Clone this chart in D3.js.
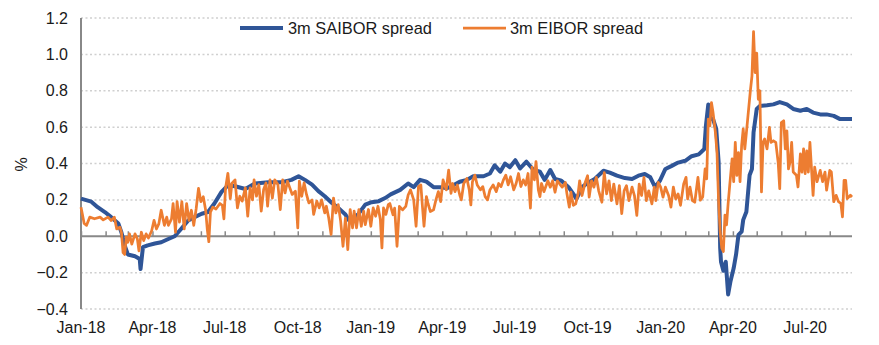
<!DOCTYPE html>
<html>
<head>
<meta charset="utf-8">
<script src="https://cdn.jsdelivr.net/npm/d3@7"></script>
<style>
  html, body { margin: 0; padding: 0; background: #fff; }
  svg { display: block; font-family: "Liberation Sans", Arial, sans-serif; }
</style>
</head>
<body>
<svg id="chart" width="879" height="345"></svg>
<script>
// ---- Data (day offset from 1 Jan 2018, spread in %) ----
const startDate = new Date(2018, 0, 1);
const endDay = 971;

const saiborDay = [0,13,21,30,38,47,51,55,59,68,74,75,78,84,93,101,110,118,126,135,143,152,160,168,177,185,194,
  207,219,236,253,265,274,282,291,299,307,316,324,333,337,343,349,358,366,375,383,390,
  402,412,419,427,435,444,452,461,469,477,486,494,507,515,521,528,534,540,547,553,561,570,578,584,
  591,597,605,614,620,624,631,639,647,658,666,675,685,694,702,710,717,723,729,736,744,752,761,769,778,
  785,787,790,793,796,800,803,805,806,809,812,815,818,822,825,828,832,834,838,842,845,847,851,
  855,864,872,880,889,897,906,914,922,931,939,948,956,964,971];
const saiborValue = [0.207,0.19,0.16,0.133,0.105,0.07,0.02,-0.05,-0.1,-0.11,-0.125,-0.18,-0.06,-0.05,-0.04,-0.033,-0.015,0.0,0.04,0.087,0.105,0.124,0.133,0.18,0.244,0.28,0.275,
  0.26,0.29,0.297,0.297,0.31,0.33,0.31,0.284,0.248,0.22,0.183,0.156,0.12,0.09,0.1,0.12,0.174,0.187,0.193,0.21,0.23,
  0.255,0.29,0.27,0.31,0.3,0.27,0.27,0.264,0.28,0.3,0.31,0.33,0.33,0.345,0.39,0.355,0.4,0.38,0.418,0.373,0.41,0.364,0.355,0.31,
  0.364,0.315,0.305,0.27,0.233,0.205,0.27,0.296,0.315,0.36,0.35,0.333,0.32,0.315,0.333,0.342,0.324,0.27,0.305,0.37,0.387,0.405,0.415,0.44,0.45,
  0.48,0.607,0.725,0.644,0.644,0.59,0.41,-0.065,-0.14,-0.19,-0.14,-0.32,-0.247,-0.175,-0.1,0.007,0.025,0.09,0.135,0.335,0.37,0.57,0.7,
  0.716,0.72,0.725,0.738,0.725,0.7,0.69,0.70,0.68,0.67,0.67,0.662,0.644,0.644,0.644];

const eiborDay = [0,4,7,11,17,24,28,34,38,42,45,49,51,53,55,57,59,61,64,68,71,73,76,79,82,85,89,92,95,98,101,105,108,110,114,116,119,121,124,127,130,133,136,139,142,145,148,151,154,157,159,161,163,166,170,175,178,180,182,185,188,190,194,
  197,200,203,207,210,213,216,218,221,224,227,230,233,235,238,241,244,248,251,254,257,260,263,266,270,273,275,278,281,284,287,291,293,297,300,303,307,309,312,315,318,321,324,327,330,333,336,339,342,344,347,350,353,356,358,362,365,368,371,374,377,379,381,384,387,
  389,393,395,398,401,405,409,412,415,419,422,425,428,430,432,435,437,440,444,447,450,453,456,460,463,466,468,471,474,477,479,482,486,489,491,493,496,499,503,506,509,512,515,519,523,526,529,532,535,538,541,545,548,551,554,557,560,563,566,568,571,573,576,578,580,583,
  588,591,594,597,600,603,606,610,612,615,617,620,623,626,628,631,635,638,640,643,646,649,652,656,659,662,665,668,671,675,678,681,684,687,690,694,697,700,703,706,709,712,715,719,722,724,727,730,733,736,740,743,746,749,752,755,759,762,764,767,770,773,777,780,783,
  786,788,790,792,794,796,799,801,803,805,807,809,811,813,815,817,820,822,824,826,828,830,832,834,836,838,840,843,845,847,849,851,853,855,857,859,861,864,867,869,872,875,878,880,882,885,887,889,891,893,895,897,901,903,906,908,910,912,914,916,918,920,922,924,927,931,934,937,939,943,945,948,951,954,957,959,961,963,965,969,971];
const eiborValue = [0.16,0.07,0.06,0.105,0.096,0.105,0.09,0.105,0.087,0.105,0.04,0.05,0.02,-0.09,-0.1,-0.005,-0.033,0.013,-0.043,0.013,-0.015,-0.08,0.022,-0.024,0.013,-0.01,0.03,0.087,0.04,0.068,0.143,0.06,0.105,0.06,0.096,0.18,0.022,0.19,0.078,0.19,0.04,0.18,0.087,0.143,0.06,0.15,0.263,0.19,0.217,0.143,0.04,-0.03,0.133,0.16,0.15,0.18,0.17,0.096,0.263,0.346,0.207,0.29,0.31,
  0.156,0.22,0.193,0.266,0.11,0.266,0.2,0.31,0.22,0.284,0.138,0.257,0.293,0.165,0.31,0.21,0.31,0.284,0.147,0.31,0.238,0.303,0.266,0.23,0.248,0.046,0.303,0.22,0.293,0.23,0.183,0.2,0.12,0.193,0.156,0.2,0.128,0.165,0.1,0.01,0.21,0.128,0.174,0.083,-0.055,0.1,-0.073,0.147,0.046,0.138,0.046,0.147,0.055,0.138,0.064,0.147,0.055,0.156,0.11,0.165,0.092,-0.064,0.156,0.12,0.174,
  0.18,0.118,0.155,-0.055,0.164,0.145,0.164,0.227,0.255,0.2,0.055,0.273,0.282,0.164,0.055,0.218,0.18,0.136,0.145,0.2,0.245,0.19,0.31,0.255,0.364,0.236,0.29,0.245,0.282,0.227,0.2,0.29,0.318,0.255,0.173,0.3,0.336,0.282,0.255,0.273,0.218,0.2,0.255,0.282,0.245,0.29,0.273,0.31,0.336,0.282,0.327,0.255,0.29,0.345,0.273,0.31,0.282,0.345,0.155,0.38,0.31,0.41,0.255,0.218,0.29,0.245,
  0.305,0.27,0.305,0.242,0.305,0.287,0.27,0.296,0.233,0.16,0.242,0.17,0.178,0.233,0.305,0.224,0.296,0.333,0.215,0.305,0.27,0.324,0.25,0.187,0.35,0.233,0.305,0.196,0.287,0.178,0.278,0.124,0.25,0.278,0.196,0.27,0.224,0.115,0.287,0.224,0.324,0.196,0.25,0.178,0.27,0.196,0.296,0.27,0.215,0.27,0.224,0.16,0.27,0.205,0.233,0.17,0.287,0.324,0.205,0.27,0.196,0.187,0.324,0.198,0.216,
  0.37,0.316,0.644,0.607,0.735,0.68,0.57,0.46,0.19,0.025,-0.065,-0.084,0.116,0.062,0.18,0.28,0.425,0.3,0.516,0.335,0.46,0.3,0.498,0.59,0.48,0.57,0.662,0.8,0.88,1.125,0.9,1.007,0.753,0.8,0.244,0.516,0.535,0.48,0.598,0.516,0.525,0.516,0.407,0.262,0.625,0.635,0.48,0.58,0.37,0.407,0.516,0.353,0.335,0.271,0.453,0.353,0.48,0.344,0.47,0.353,0.516,0.37,0.225,0.38,0.3,0.362,0.3,0.353,0.253,0.362,0.353,0.19,0.225,0.19,0.18,0.107,0.307,0.307,0.207,0.225,0.216];

const yTicks = [-0.4, -0.2, 0.0, 0.2, 0.4, 0.6, 0.8, 1.0, 1.2];
const seriesNames = ["3m SAIBOR spread", "3m EIBOR spread"];
const seriesColors = ["#2F5597", "#ED7D31"];
const yLabel = "%";

if (saiborDay.length !== saiborValue.length) throw new Error("saibor lengths " + saiborDay.length + " vs " + saiborValue.length);
if (eiborDay.length !== eiborValue.length) throw new Error("eibor lengths " + eiborDay.length + " vs " + eiborValue.length);

// ---- Build ----
const svg = d3.select("#chart");
const mLeft = 81, mRight = 852, mTop = 18, mBottom = 309;

const x = d3.scaleTime()
  .domain([startDate, d3.timeDay.offset(startDate, endDay)])
  .range([mLeft, mRight]);
const y = d3.scaleLinear().domain([-0.4, 1.2]).range([mBottom, mTop]);

// gridlines (dotted)
svg.append("g").selectAll("line")
  .data(yTicks.filter(t => t !== 0))
  .join("line")
  .attr("x1", mLeft).attr("x2", mRight)
  .attr("y1", d => y(d)).attr("y2", d => y(d))
  .attr("stroke", "#d0d0d0").attr("stroke-width", 1.5)
  .attr("stroke-dasharray", "2,2.5");

// y-axis labels
svg.append("g").selectAll("text")
  .data(yTicks)
  .join("text")
  .attr("x", 68).attr("y", d => y(d))
  .attr("dy", "0.35em")
  .attr("text-anchor", "end")
  .attr("font-size", 16).attr("fill", "#1a1a1a")
  .text(d => d3.format(".1f")(d));

// y label
svg.append("text")
  .attr("transform", `translate(27,${(mTop + mBottom) / 2 + 1}) rotate(-90)`)
  .attr("text-anchor", "middle")
  .attr("font-size", 16).attr("fill", "#1a1a1a")
  .text(yLabel);

// x axis on zero line with monthly ticks pointing up
const xAxis = d3.axisTop(x)
  .ticks(d3.timeMonth.every(1))
  .tickSize(5)
  .tickFormat("");
const gx = svg.append("g")
  .attr("transform", `translate(0,${y(0)})`)
  .call(xAxis);
gx.select(".domain").remove();
gx.selectAll(".tick line").attr("stroke", "#888").attr("stroke-width", 1.5);
svg.append("line")
  .attr("x1", mLeft).attr("x2", mRight)
  .attr("y1", y(0)).attr("y2", y(0))
  .attr("stroke", "#888").attr("stroke-width", 2);

// quarterly date labels at bottom
svg.append("g").selectAll("text")
  .data(x.ticks(d3.timeMonth.every(3)))
  .join("text")
  .attr("x", d => x(d)).attr("y", 333)
  .attr("text-anchor", "middle")
  .attr("font-size", 16).attr("fill", "#1a1a1a")
  .text(d => d3.timeFormat("%b-%y")(d));

// y axis line
svg.append("line")
  .attr("x1", mLeft).attr("x2", mLeft)
  .attr("y1", mTop).attr("y2", mBottom)
  .attr("stroke", "#888").attr("stroke-width", 2);

// series lines
const line = d3.line()
  .x(d => x(d3.timeDay.offset(startDate, d[0])))
  .y(d => y(d[1]));

const saibor = d3.zip(saiborDay, saiborValue);
const eibor = d3.zip(eiborDay, eiborValue);

svg.append("path").datum(saibor)
  .attr("fill", "none").attr("stroke", seriesColors[0])
  .attr("stroke-width", 4).attr("stroke-linejoin", "round")
  .attr("d", line);
svg.append("path").datum(eibor)
  .attr("fill", "none").attr("stroke", seriesColors[1])
  .attr("stroke-width", 2.75).attr("stroke-linejoin", "round")
  .attr("d", line);

// legend
const legendPos = [[240, 288], [463, 510]];
const lg = svg.append("g");
seriesNames.forEach((name, i) => {
  lg.append("line")
    .attr("x1", legendPos[i][0]).attr("x2", legendPos[i][0] + 43)
    .attr("y1", 28).attr("y2", 28)
    .attr("stroke", seriesColors[i]).attr("stroke-width", i === 0 ? 4 : 2.75);
  lg.append("text")
    .attr("x", legendPos[i][1]).attr("y", 28).attr("dy", "0.35em")
    .attr("font-size", 16.4).attr("fill", "#1a1a1a")
    .text(name);
});
</script>
</body>
</html>
